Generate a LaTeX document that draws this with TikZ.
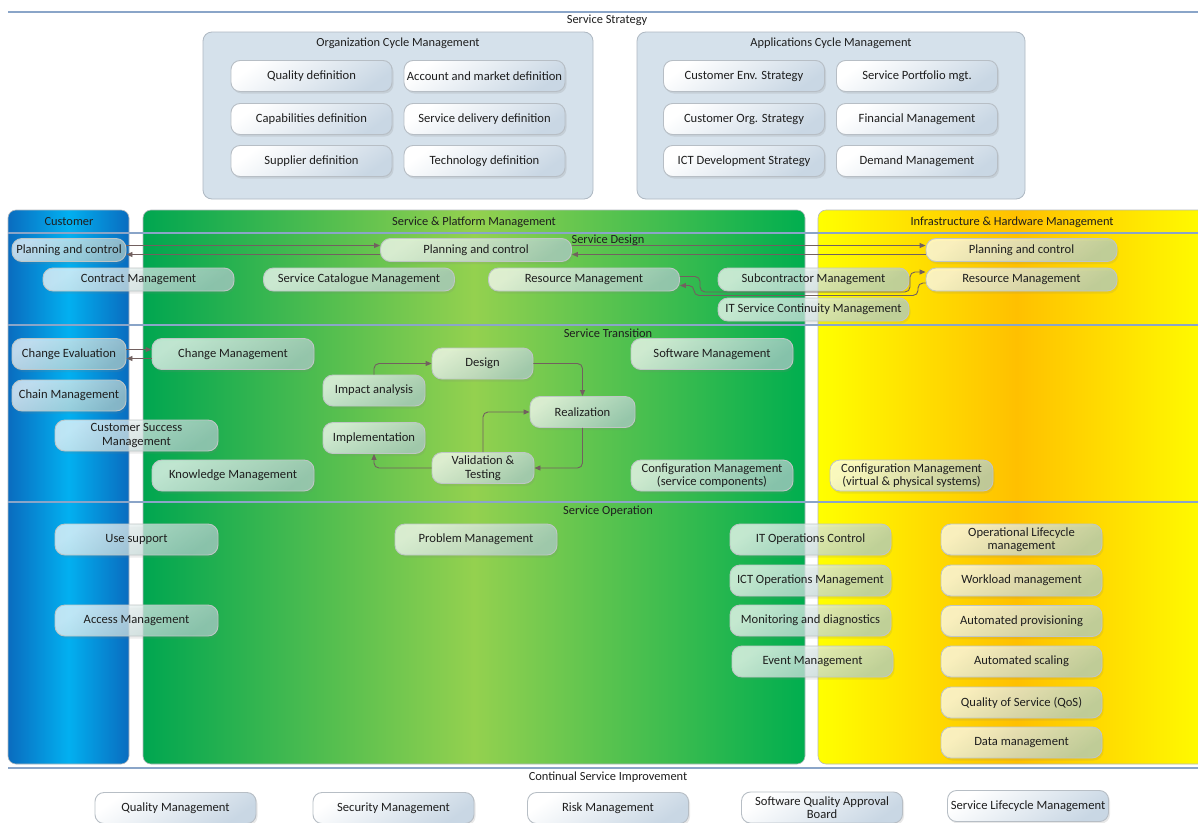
\documentclass[tikz,border=0pt]{standalone}
\usepackage{fontspec}
\setmainfont{Carlito}
\usetikzlibrary{arrows.meta,shadows}

\definecolor{sepline}{HTML}{8AA5C8}
\definecolor{txt}{HTML}{1E1E1E}
\definecolor{laneedge}{HTML}{B4B9BE}
\definecolor{bluedark}{HTML}{0A6CBF}
\definecolor{bluelight}{HTML}{02B0F0}
\definecolor{greenleft}{HTML}{00A650}
\definecolor{greenmid}{HTML}{94D14F}
\definecolor{greenright}{HTML}{00AE4F}
\definecolor{yel}{HTML}{FFFF00}
\definecolor{orng}{HTML}{FFC000}
\definecolor{stratfill}{HTML}{D5E1EB}
\definecolor{stratedge}{HTML}{AEB8C2}
\definecolor{boxedge}{HTML}{B7BEC5}
\definecolor{stratlow}{HTML}{C9D7E4}
\definecolor{lanelow}{HTML}{AFCDCB}
\definecolor{laneboxedge}{HTML}{BFC6C6}
\definecolor{flowc}{HTML}{72605F}

\tikzset{
  sep/.style={draw=sepline, line width=1.3pt},
  lanebg/.style={draw=laneedge, line width=0.6pt, rounded corners=8pt},
  lbl/.style={font=\fontsize{12.4}{14}\selectfont, text=txt, inner sep=0pt},
  basebox/.style={rounded corners=9pt, align=center, font=\fontsize{12.6}{13.4}\selectfont,
    text=txt, inner sep=1pt, line width=0.9pt},
  sz/.style 2 args={minimum width=#1pt, minimum height=#2pt},
  stratbox/.style={basebox, draw=boxedge, top color=white, bottom color=stratlow,
    shading angle=35, sz={161}{31},
    drop shadow={shadow xshift=1.5pt, shadow yshift=-2pt, opacity=0.18}},
  csibox/.style={stratbox},
  lanebox/.style={basebox, rounded corners=10pt, draw=laneboxedge, top color=white,
    bottom color=lanelow, shading angle=35, fill opacity=0.72, text opacity=1,
    drop shadow={shadow xshift=1.5pt, shadow yshift=-2.5pt, opacity=0.15}},
  holder/.style={draw=stratedge, fill=stratfill, line width=0.8pt, rounded corners=9pt},
  flow/.style={draw=flowc, line width=0.9pt, -{Triangle[length=6pt, width=5pt]},
    rounded corners=5pt},
}

\begin{document}
\begin{tikzpicture}[x=1pt, y=-1pt]
\useasboundingbox (0,0) rectangle (1198,822);
\fill[white] (0,0) rectangle (1198,822);

% ---------- swimlanes ----------
\path[lanebg, left color=bluedark, right color=bluedark, middle color=bluelight]
  (8,210) rectangle (129,764);
\path[lanebg, left color=greenleft, right color=greenright, middle color=greenmid]
  (143,210) rectangle (805,764);
\path[lanebg, left color=yel, right color=yel, middle color=orng]
  (818,210) rectangle (1215,764);

% ---------- phase separators ----------
\foreach \yy in {12,233,325,502,768} \draw[sep] (8,\yy) -- (1200,\yy);

% ---------- phase and lane titles ----------
\node[lbl] (sstr) at (607,20) {Service Strategy};
\node[lbl] (custt) at (69,222) {Customer};
\node[lbl] (spmt) at (474,222) {Service \& Platform Management};
\node[lbl] (ihmt) at (1012,222) {Infrastructure \& Hardware Management};
\node[lbl] (sdes) at (608,240) {Service Design};
\node[lbl] (stra) at (608,333) {Service Transition};
\node[lbl] (sop) at (608,511) {Service Operation};
\node[lbl] (csi) at (608,777) {Continual Service Improvement};

% ---------- service strategy ----------
\node[holder, sz={390}{167}] (ocm) at (398,115.5) {};
\node[holder, sz={388}{167}] (acm) at (831,115.5) {};
\node[lbl] (ocmt) at (398,43.5) {Organization Cycle Management};
\node[lbl] (acmt) at (831,43.5) {Applications Cycle Management};

\node[stratbox] (qd)    at (311.5,76)  {Quality definition};
\node[stratbox] (amd)   at (484.5,76)  {Account and market definition};
\node[stratbox] (capd)  at (311.5,119) {Capabilities definition};
\node[stratbox] (sdd)   at (484.5,119) {Service delivery definition};
\node[stratbox] (supd)  at (311.5,161) {Supplier definition};
\node[stratbox] (techd) at (484.5,161) {Technology definition};

\node[stratbox] (ces)  at (744,76)  {Customer Env. Strategy};
\node[stratbox] (spm)  at (917,76)  {Service Portfolio mgt.};
\node[stratbox] (cos)  at (744,119) {Customer Org. Strategy};
\node[stratbox] (fin)  at (917,119) {Financial Management};
\node[stratbox] (icts) at (744,161) {ICT Development Strategy};
\node[stratbox] (dem)  at (917,161) {Demand Management};

% ---------- service design ----------
\node[lanebox, sz={114}{23}] (cpc)  at (69,250)    {Planning and control};
\node[lanebox, sz={191}{23}] (conm) at (138.5,279.5)   {Contract Management};
\node[lanebox, sz={191}{23}] (scm)  at (359,279.5)     {Service Catalogue Management};
\node[lanebox, sz={191}{23}] (gpc)  at (476,250)   {Planning and control};
\node[lanebox, sz={191}{23}] (gres) at (584,279.5)     {Resource Management};
\node[lanebox, sz={191}{23}] (subm) at (813.5,279.5)   {Subcontractor Management};
\node[lanebox, sz={191}{23}] (itsc) at (813.5,309.5)   {IT Service Continuity Management};
\node[lanebox, sz={191}{23}] (ipc)  at (1021.5,250) {Planning and control};
\node[lanebox, sz={191}{23}] (ires) at (1021.5,279.5)  {Resource Management};

\draw[flow] ([yshift=4.5pt]cpc.east) -- ([yshift=4.5pt]gpc.west);
\draw[flow] ([yshift=-4.5pt]gpc.west) -- ([yshift=-4.5pt]cpc.east);
\draw[flow] ([yshift=4.5pt]gpc.east) -- ([yshift=4.5pt]ipc.west);
\draw[flow] ([yshift=-4.5pt]ipc.west) -- ([yshift=-4.5pt]gpc.east);

\coordinate (ra1) at (700,292);
\coordinate (ra2) at (910,292);
\coordinate (rb1) at (694,295.5);
\coordinate (rb2) at (918,295.5);
\draw[flow] ([yshift=3pt]gres.east) -| (ra1) -- (ra2) |- ([yshift=7.5pt]ires.west);
\draw[flow] ([yshift=-3.5pt]ires.west) -| (rb2) -- (rb1) |- ([yshift=-6pt]gres.east);

% ---------- service transition ----------
\node[lanebox, sz={114}{31}] (ceval) at (69,354)  {Change Evaluation};
\node[lanebox, sz={114}{31}] (chain) at (69,395.5)    {Chain Management};
\node[lanebox, sz={163}{31}] (csm)   at (136.5,435.5) {Customer Success\\Management};
\node[lanebox, sz={162}{31}] (chm)   at (233,354) {Change Management};
\node[lanebox, sz={162}{31}] (know)  at (233,475.5)   {Knowledge Management};
\node[lanebox, sz={102}{31}] (imp)   at (374,390.5)   {Impact analysis};
\node[lanebox, sz={101}{31}] (des)   at (482.5,363.5) {Design};
\node[lanebox, sz={105}{31}] (rea)   at (582.5,412) {Realization};
\node[lanebox, sz={102}{31}] (impl)  at (374,438) {Implementation};
\node[lanebox, sz={102}{31}] (val)   at (483,468)   {Validation \&\\Testing};
\node[lanebox, sz={162}{31}] (swm)   at (712,354) {Software Management};
\node[lanebox, sz={162}{31}] (cfgs)  at (712,475.5)   {Configuration Management\\(service components)};
\node[lanebox, sz={163}{31}] (cfgv)  at (911.5,475.5) {Configuration Management\\(virtual \& physical systems)};

\draw[flow] ([yshift=4.5pt]ceval.east) -- ([yshift=4.5pt]chm.west);
\draw[flow] ([yshift=-4.5pt]chm.west) -- ([yshift=-4.5pt]ceval.east);
\draw[flow] (imp.north) |- (des.west);
\draw[flow] (des.east) -| (rea.north);
\draw[flow] (rea.south) |- (val.east);
\draw[flow] (val.north) |- (rea.west);
\draw[flow] (val.west) -| (impl.south);

% ---------- service operation ----------
\node[lanebox, sz={163}{31}] (use)  at (136.5,539.5) {Use support};
\node[lanebox, sz={163}{31}] (acc)  at (136.5,620.5) {Access Management};
\node[lanebox, sz={162}{31}] (prob) at (476,539.5)   {Problem Management};
\node[lanebox, sz={161}{31}] (itoc) at (810.5,539.5) {IT Operations Control};
\node[lanebox, sz={161}{31}] (ictm) at (810.5,580.5) {ICT Operations Management};
\node[lanebox, sz={161}{31}] (mon)  at (810.5,620.5) {Monitoring and diagnostics};
\node[lanebox, sz={161}{31}] (evm)  at (812.5,661.5) {Event Management};
\node[lanebox, sz={161}{31}] (olm)  at (1021.5,539.5)   {Operational Lifecycle\\management};
\node[lanebox, sz={161}{31}] (wlm)  at (1021.5,580.5)   {Workload management};
\node[lanebox, sz={161}{31}] (apv)  at (1021.5,621) {Automated provisioning};
\node[lanebox, sz={161}{31}] (asc)  at (1021.5,661.5)   {Automated scaling};
\node[lanebox, sz={161}{31}] (qos)  at (1021.5,702.5)   {Quality of Service (QoS)};
\node[lanebox, sz={161}{31}] (dm)   at (1021.5,742.5)   {Data management};

% ---------- continual service improvement ----------
\node[csibox] (qm)    at (175.5,808) {Quality Management};
\node[csibox] (secm)  at (393.5,808) {Security Management};
\node[csibox] (riskm) at (608,808)   {Risk Management};
\node[csibox] (sqab)  at (822,807.5)     {Software Quality Approval\\Board};
\node[csibox] (slm)   at (1028,806)  {Service Lifecycle Management};
\end{tikzpicture}
\end{document}
